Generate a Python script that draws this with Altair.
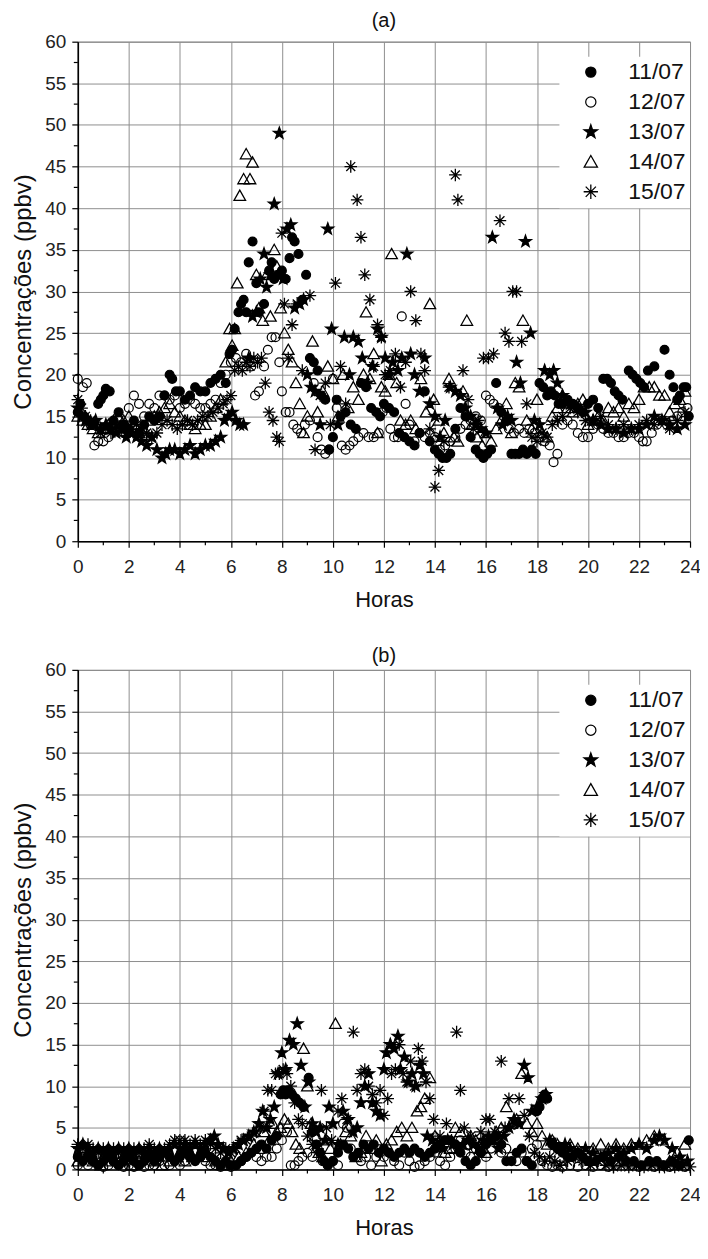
import altair as alt
import pandas as pd

SERIES = ["11/07", "12/07", "13/07", "14/07", "15/07"]

# ---------------- Panel (a): (hour, ppbv) ----------------
A_1107 = [(0.0,15.5),(0.1,16.5),(0.25,15.0),(0.4,14.5),(0.6,14.0),(0.8,16.5),(0.9,17.0),(1.0,17.5),(1.1,18.3),(1.25,18.0),(1.4,14.5),(1.6,15.5),(1.8,14.0),
          (2.0,13.5),(2.2,14.5),(2.4,13.0),(2.6,14.0),(2.8,15.0),(3.0,14.5),(3.2,15.0),(3.4,17.5),(3.6,20.0),(3.7,19.5),(3.85,18.0),(4.0,18.0),(4.2,17.0),(4.4,17.5),(4.6,18.5),(4.8,18.0),
          (5.0,18.0),(5.2,19.0),(5.4,19.5),(5.6,20.0),(5.8,19.0),(5.95,22.5),(6.05,23.0),(6.15,25.5),(6.3,27.5),(6.4,28.5),(6.5,29.0),(6.6,27.5),(6.7,33.5),(6.85,36.0),(7.0,31.0),(7.1,27.5),
          (7.3,28.5),(7.5,32.5),(7.6,33.5),(7.7,31.5),(7.85,32.0),(8.0,32.5),(8.15,31.5),(8.3,34.0),(8.4,36.5),(8.5,36.0),(8.65,34.5),(8.8,29.0),(8.95,32.0),(9.1,22.0),(9.25,21.5),(9.4,20.5),
          (9.55,17.5),(9.7,17.0),(9.85,11.0),(10.0,12.5),(10.15,17.0),(10.3,15.0),(10.5,15.5),(10.7,14.0),(10.9,13.5),(11.1,19.0),(11.3,18.5),(11.5,16.0),(11.7,15.5),(11.85,15.0),(12.0,16.5),
          (12.2,16.0),(12.4,15.5),(12.6,13.0),(12.8,12.5),(13.0,12.0),(13.2,11.5),(13.4,13.0),(13.6,18.0),(13.8,12.0),(14.0,11.0),(14.15,10.5),(14.3,10.0),(14.45,10.0),(14.6,10.5),(14.8,13.5),
          (15.0,16.0),(15.2,15.0),(15.4,12.5),(15.6,11.0),(15.75,10.5),(15.9,10.0),(16.05,10.5),(16.2,11.0),(16.4,19.0),(16.6,15.5),(16.8,14.5),(17.0,10.5),(17.15,10.5),(17.3,10.5),(17.45,11.0),
          (17.6,10.5),(17.8,11.0),(17.95,10.5),(18.1,19.0),(18.25,18.5),(18.4,17.5),(18.55,18.0),(18.7,17.5),(18.85,16.5),(19.0,16.5),(19.2,17.0),(19.4,16.5),(19.6,16.0),(19.8,15.5),(20.0,16.5),
          (20.2,17.0),(20.4,16.0),(20.6,19.5),(20.75,19.5),(20.9,19.0),(21.05,18.0),(21.2,17.5),(21.35,17.0),(21.6,20.5),(21.75,20.0),(21.9,19.5),(22.05,19.0),(22.2,18.5),(22.35,20.5),(22.6,21.0),
          (23.0,23.0),(23.2,20.0),(23.35,18.5),(23.5,17.0),(23.6,17.5),(23.75,18.5),(23.85,18.5),(23.95,15.0)]

A_1207 = [(0.0,19.5),(0.2,18.5),(0.35,19.0),(0.5,14.0),(0.65,11.5),(0.8,12.0),(1.0,12.0),(1.2,12.5),(1.4,13.5),(1.6,14.5),(1.8,13.0),(2.0,16.0),(2.2,17.5),(2.4,16.5),(2.6,15.0),(2.8,16.5),
          (3.0,16.0),(3.2,17.5),(3.4,17.5),(3.6,17.0),(3.8,17.5),(4.0,16.0),(4.2,16.5),(4.4,17.0),(4.6,16.5),(4.8,16.0),(5.0,16.0),(5.2,16.5),(5.4,17.0),(5.6,19.0),(5.8,20.0),(6.0,21.5),
          (6.2,22.0),(6.4,21.5),(6.6,22.5),(6.8,21.0),(6.95,17.5),(7.1,18.0),(7.3,21.0),(7.45,23.0),(7.6,24.5),(7.75,24.5),(7.9,21.5),(8.0,18.0),(8.15,15.5),(8.3,15.5),(8.45,14.0),(8.6,13.5),
          (8.75,13.0),(8.9,14.0),(9.1,14.5),(9.25,19.0),(9.4,12.5),(9.55,11.0),(9.7,10.5),(9.85,11.0),(10.0,19.5),(10.15,16.0),(10.35,11.5),(10.5,11.0),(10.65,11.5),(10.8,12.0),(11.0,12.5),
          (11.2,13.0),(11.4,12.5),(11.6,12.5),(11.8,13.0),(11.95,15.5),(12.1,16.0),(12.25,13.5),(12.4,12.5),(12.55,12.5),(12.7,27.0),(12.85,16.5),(13.0,14.0),(13.2,12.0),(13.4,13.0),(13.6,12.5),
          (13.8,13.0),(14.0,12.5),(14.2,11.0),(14.4,11.5),(14.6,12.0),(14.8,12.5),(15.0,13.5),(15.2,14.0),(15.4,14.5),(15.6,15.0),(15.8,14.5),(16.0,17.5),(16.15,17.0),(16.3,16.5),(16.5,16.0),
          (16.7,15.0),(16.9,13.5),(17.1,13.0),(17.3,13.5),(17.5,13.0),(17.7,13.5),(17.9,13.0),(18.1,12.5),(18.3,12.0),(18.5,11.5),(18.65,9.5),(18.8,10.5),(19.0,14.0),(19.2,14.5),(19.4,14.0),
          (19.6,13.0),(19.8,12.5),(20.0,12.5),(20.2,13.5),(20.4,14.0),(20.6,13.5),(20.8,13.0),(21.0,13.0),(21.2,12.5),(21.4,12.5),(21.6,13.0),(21.8,13.0),(22.0,12.5),(22.15,12.0),(22.3,12.0),
          (22.5,13.0),(22.7,14.0),(22.9,14.5),(23.1,14.0),(23.3,14.5),(23.5,15.0),(23.7,15.5),(23.9,16.0)]

A_1307 = [(0.0,16.0),(0.15,15.0),(0.3,14.5),(0.5,14.0),(0.7,14.5),(0.9,13.5),(1.1,14.0),(1.3,13.5),(1.5,13.0),(1.7,13.5),(1.9,12.5),(2.1,13.0),(2.3,12.5),(2.5,12.0),(2.7,11.5),(2.9,12.5),
          (3.1,11.0),(3.3,10.0),(3.45,10.5),(3.6,11.0),(3.8,11.0),(4.0,10.5),(4.2,11.0),(4.4,11.5),(4.6,10.5),(4.8,11.0),(5.0,11.5),(5.2,11.5),(5.4,12.0),(5.6,12.5),(5.75,14.5),(5.9,15.0),
          (6.05,15.5),(6.2,14.5),(6.35,14.0),(6.5,14.0),(6.7,22.0),(6.85,27.0),(7.0,27.5),(7.15,31.5),(7.3,34.5),(7.4,30.5),(7.55,32.0),(7.7,40.5),(7.9,49.0),(8.05,31.5),(8.2,37.5),(8.35,38.0),
          (8.5,28.0),(8.7,28.5),(8.85,29.0),(9.0,20.0),(9.15,18.5),(9.3,18.0),(9.5,14.0),(9.8,37.5),(9.95,25.5),(10.2,14.0),(10.45,24.5),(10.65,20.0),(10.8,24.5),(11.0,24.0),(11.15,22.0),
          (11.35,19.0),(11.55,21.0),(11.75,25.5),(11.9,24.5),(12.05,22.0),(12.2,20.0),(12.35,21.5),(12.55,20.5),(12.7,22.0),(12.9,34.5),(13.05,22.5),(13.2,20.0),(13.4,18.0),(13.6,22.0),(13.8,16.5),
          (14.0,15.0),(14.2,12.5),(14.4,14.5),(14.6,18.5),(14.8,18.0),(15.0,17.5),(15.2,16.0),(15.4,15.0),(15.6,14.0),(15.8,13.5),(16.0,13.0),(16.25,36.5),(16.45,16.0),(16.65,14.0),(16.85,15.0),
          (17.0,14.5),(17.2,21.5),(17.35,19.0),(17.55,36.0),(17.75,25.0),(17.9,14.5),(18.1,14.0),(18.3,20.5),(18.5,20.0),(18.65,20.5),(18.8,19.0),(19.0,17.5),(19.3,16.5),(19.6,16.0),(19.9,15.5),
          (20.2,14.5),(20.5,14.0),(20.8,13.5),(21.1,13.5),(21.4,13.0),(21.7,13.5),(22.0,13.5),(22.3,14.0),(22.6,15.0),(22.9,14.5),(23.2,14.0),(23.5,13.5),(23.8,14.0)]

A_1407 = [(0.0,15.0),(0.2,14.5),(0.4,14.0),(0.6,13.5),(0.8,13.0),(1.0,13.5),(1.2,14.0),(1.4,14.5),(1.6,15.0),(1.8,14.5),(2.0,15.0),(2.2,14.0),(2.4,13.0),(2.6,13.5),(2.8,14.5),(3.0,15.0),
          (3.2,15.5),(3.4,16.0),(3.6,16.5),(3.8,15.5),(4.0,15.0),(4.2,14.5),(4.4,14.0),(4.6,13.5),(4.8,14.0),(5.0,14.0),(5.2,15.0),(5.4,16.0),(5.6,17.0),(5.8,21.5),(5.95,25.5),(6.05,23.5),
          (6.15,25.5),(6.25,31.0),(6.35,41.5),(6.5,43.5),(6.6,46.5),(6.75,43.5),(6.85,45.5),(7.0,32.0),(7.1,28.0),(7.25,26.5),(7.4,32.0),(7.55,27.0),(7.7,35.0),(7.8,33.0),(7.95,28.0),(8.1,25.0),
          (8.25,23.0),(8.4,21.5),(8.55,19.0),(8.7,16.5),(8.85,13.0),(9.0,15.0),(9.2,24.0),(9.4,15.5),(9.6,18.0),(9.8,21.0),(10.0,19.5),(10.2,15.0),(10.4,20.0),(10.6,16.0),(10.8,18.5),(11.0,17.0),
          (11.2,20.0),(11.3,27.5),(11.45,19.5),(11.6,22.5),(11.75,13.0),(11.9,18.5),(12.05,18.0),(12.2,20.0),(12.3,34.5),(12.5,19.0),(12.65,14.5),(12.85,14.0),(13.05,14.5),(13.25,13.5),
          (13.45,19.5),(13.65,15.5),(13.8,28.5),(13.95,17.0),(14.15,14.5),(14.35,13.0),(14.55,19.5),(14.75,12.5),(14.9,12.0),(15.1,18.0),(15.25,26.5),(15.45,14.0),(15.65,12.5),(15.85,11.5),
          (16.0,13.0),(16.2,12.0),(16.4,13.5),(16.6,14.5),(16.8,16.5),(17.0,13.0),(17.15,19.0),(17.3,18.5),(17.45,26.5),(17.6,14.5),(17.8,13.5),(18.0,17.0),(18.2,13.0),(18.4,12.5),(18.6,15.0),
          (18.8,16.0),(19.0,17.5),(19.2,16.0),(19.4,15.5),(19.6,16.5),(19.8,17.0),(20.0,14.0),(20.2,14.5),(20.4,15.0),(20.6,14.5),(20.8,16.0),(21.0,15.5),(21.2,16.0),(21.4,15.0),(21.6,16.5),
          (21.8,16.0),(22.0,17.0),(22.2,18.5),(22.4,18.5),(22.6,18.5),(22.8,17.5),(23.0,17.5),(23.2,15.5),(23.4,16.5),(23.6,17.0),(23.8,18.0)]

A_1507 = [(0.0,17.0),(0.15,16.0),(0.3,15.0),(0.5,14.5),(0.7,14.0),(0.9,13.0),(1.1,13.5),(1.3,13.0),(1.5,14.0),(1.7,13.5),(1.9,13.0),(2.1,13.5),(2.3,14.0),(2.5,13.5),(2.7,13.0),(2.9,12.5),
          (3.1,13.0),(3.3,14.0),(3.5,14.5),(3.7,14.0),(3.9,13.5),(4.1,14.0),(4.3,14.5),(4.5,14.0),(4.7,14.5),(4.9,15.0),(5.1,15.0),(5.3,15.5),(5.5,16.0),(5.7,16.5),(5.85,17.0),(6.0,17.5),
          (6.15,20.5),(6.3,21.0),(6.45,20.5),(6.6,21.5),(6.75,21.0),(6.9,22.0),(7.05,21.5),(7.2,22.0),(7.35,19.0),(7.5,15.5),(7.65,14.5),(7.8,12.5),(7.9,12.0),(8.0,37.0),(8.1,28.5),(8.25,22.0),
          (8.4,26.0),(8.6,28.5),(8.8,20.5),(9.1,29.5),(9.3,11.0),(9.5,17.5),(9.7,19.0),(9.9,14.0),(10.1,31.0),(10.3,21.0),(10.5,16.5),(10.7,45.0),(10.95,41.0),(11.1,36.5),(11.25,32.0),(11.45,29.0),
          (11.6,21.0),(11.75,26.0),(11.9,24.5),(12.05,20.0),(12.25,20.5),(12.45,22.5),(12.65,18.5),(12.85,21.5),(13.05,30.0),(13.25,26.5),(13.45,22.5),(13.6,20.5),(13.8,13.5),(14.0,6.5),(14.15,8.5),
          (14.35,12.0),(14.55,18.5),(14.8,44.0),(14.9,41.0),(15.1,20.5),(15.3,17.0),(15.5,13.5),(15.7,14.5),(15.9,22.0),(16.1,22.0),(16.3,22.5),(16.55,38.5),(16.75,25.0),(16.9,24.0),(17.05,30.0),
          (17.2,30.0),(17.4,24.0),(17.6,16.5),(17.8,12.5),(18.0,12.0),(18.2,13.0),(18.4,12.5),(18.6,14.0),(18.8,14.5),(19.0,15.0),(19.3,16.0),(19.6,15.5),(19.9,14.5),(20.2,14.5),(20.5,15.0),
          (20.8,14.0),(21.1,13.5),(21.4,14.0),(21.7,13.5),(22.0,14.0),(22.3,14.5),(22.6,14.0),(22.9,14.5),(23.2,13.5),(23.5,14.5),(23.8,15.5)]

# ---------------- Panel (b): (hour, ppbv) ----------------
B_1107 = [(0.0,1.5),(0.2,1.0),(0.4,1.5),(0.6,1.0),(0.8,0.5),(1.0,1.0),(1.2,1.5),(1.4,1.0),(1.6,0.5),(1.8,1.0),(2.0,1.5),(2.2,1.0),(2.4,0.5),(2.6,1.0),(2.8,1.5),(3.0,1.0),(3.2,1.5),
          (3.4,2.0),(3.6,1.5),(3.8,1.0),(4.0,1.5),(4.2,2.0),(4.4,1.5),(4.6,1.0),(4.8,1.5),(5.0,2.0),(5.2,1.5),(5.4,1.0),(5.6,0.5),(5.8,1.0),(6.0,0.5),(6.2,0.5),(6.4,1.0),(6.6,1.5),(6.8,2.0),
          (7.0,2.5),(7.2,3.0),(7.4,2.5),(7.6,3.5),(7.8,4.0),(7.95,9.0),(8.05,9.5),(8.15,9.0),(8.25,9.5),(8.4,9.0),(8.55,8.5),(8.7,8.0),(8.85,7.5),(9.05,11.0),(9.2,4.5),(9.35,3.0),(9.5,2.0),
          (9.65,1.0),(9.8,0.5),(10.0,1.0),(10.2,2.0),(10.4,3.0),(10.6,2.5),(10.8,1.5),(11.0,2.0),(11.2,3.0),(11.4,2.5),(11.6,3.0),(11.8,2.0),(12.0,2.5),(12.2,2.0),(12.4,1.5),(12.6,2.0),
          (12.8,2.5),(13.0,2.0),(13.2,2.5),(13.4,2.0),(13.6,1.5),(13.8,2.0),(14.0,2.5),(14.2,3.0),(14.4,3.5),(14.6,3.5),(14.8,3.0),(15.0,2.0),(15.2,1.0),(15.4,0.5),(15.6,1.0),(15.8,2.0),
          (16.0,3.0),(16.2,3.5),(16.4,4.0),(16.6,3.0),(16.8,1.0),(17.0,1.0),(17.2,2.0),(17.4,2.5),(17.6,1.0),(17.8,0.5),(18.0,7.0),(18.1,7.5),(18.2,8.5),(18.3,9.0),(18.4,8.5),(18.6,3.0),
          (18.8,2.5),(19.0,2.0),(19.2,1.5),(19.4,1.5),(19.6,2.0),(19.8,1.5),(20.0,1.0),(20.3,1.0),(20.6,1.5),(20.9,1.0),(21.2,1.5),(21.5,1.0),(21.8,1.0),(22.1,0.5),(22.4,1.0),(22.7,1.0),
          (23.0,0.5),(23.3,1.0),(23.6,0.5),(23.95,3.5)]

B_1207 = [(0.0,0.5),(0.2,1.5),(0.4,0.5),(0.6,1.0),(0.8,0.5),(1.0,0.3),(1.2,0.5),(1.4,1.0),(1.6,0.5),(1.8,0.3),(2.0,0.5),(2.2,0.3),(2.4,0.5),(2.6,0.3),(2.8,0.5),(3.0,0.5),(3.2,1.0),
          (3.4,0.5),(3.6,0.5),(3.8,1.0),(4.0,0.5),(4.2,1.0),(4.4,1.5),(4.6,2.0),(4.8,1.5),(5.0,1.0),(5.2,0.5),(5.4,0.5),(5.6,0.3),(5.8,0.5),(6.0,0.3),(6.2,0.5),(6.4,1.0),(6.6,1.5),(6.8,2.0),
          (7.0,1.5),(7.2,1.0),(7.4,1.5),(7.6,1.5),(7.8,2.5),(8.0,3.5),(8.2,4.5),(8.35,0.5),(8.5,0.5),(8.65,1.0),(8.8,1.5),(9.0,2.0),(9.2,1.5),(9.4,2.5),(9.6,1.0),(9.8,0.5),(10.0,1.0),
          (10.2,0.5),(10.4,5.5),(10.55,5.0),(10.7,2.5),(10.9,1.5),(11.1,1.0),(11.3,1.5),(11.5,0.5),(11.7,1.5),(11.85,2.0),(12.0,1.5),(12.2,2.0),(12.4,1.0),(12.6,0.5),(12.8,2.0),(13.0,1.0),
          (13.2,0.3),(13.4,0.5),(13.6,1.0),(13.8,1.5),(14.0,2.0),(14.2,1.0),(14.4,0.5),(14.6,1.5),(14.8,2.5),(15.0,3.5),(15.2,2.0),(15.4,1.5),(15.6,2.5),(15.8,2.0),(16.0,1.5),(16.2,2.5),
          (16.4,3.5),(16.6,2.0),(16.8,2.5),(17.0,1.5),(17.2,1.0),(17.4,2.0),(17.6,1.0),(17.8,2.5),(18.0,3.0),(18.2,1.0),(18.4,0.5),(18.6,0.3),(18.8,0.5),(19.0,0.3),(19.3,0.5),(19.6,0.3),
          (19.9,0.5),(20.2,0.3),(20.5,0.5),(20.8,0.3),(21.1,0.5),(21.4,1.0),(21.7,0.5),(22.0,0.3),(22.3,0.5),(22.6,0.3),(22.9,0.5),(23.2,0.3),(23.5,0.5),(23.8,0.3)]

B_1307 = [(0.0,2.5),(0.2,3.0),(0.4,2.5),(0.6,2.0),(0.8,2.5),(1.0,2.0),(1.2,2.5),(1.4,2.0),(1.6,2.5),(1.8,2.0),(2.0,2.5),(2.2,2.0),(2.4,2.5),(2.6,2.0),(2.8,2.5),(3.0,2.0),(3.2,2.5),
          (3.4,2.0),(3.6,2.5),(3.8,3.0),(4.0,2.5),(4.2,3.0),(4.4,2.5),(4.6,3.0),(4.8,2.5),(5.0,3.0),(5.2,3.5),(5.35,4.0),(5.5,3.0),(5.7,2.5),(5.9,2.0),(6.1,2.5),(6.3,3.0),(6.5,3.5),(6.7,4.0),
          (6.9,4.5),(7.1,5.5),(7.25,7.0),(7.4,5.0),(7.55,6.0),(7.7,7.5),(7.85,11.5),(8.0,14.0),(8.15,12.0),(8.3,15.5),(8.45,15.0),(8.6,17.5),(8.75,12.5),(8.9,7.5),(9.05,10.5),(9.2,5.5),
          (9.35,4.5),(9.5,5.0),(9.7,3.5),(9.85,7.5),(10.0,5.5),(10.2,3.0),(10.4,7.0),(10.6,6.0),(10.8,4.5),(10.95,5.0),(11.1,8.0),(11.25,10.0),(11.4,11.5),(11.55,8.0),(11.7,7.0),(11.85,6.5),
          (12.0,12.0),(12.1,14.0),(12.25,15.0),(12.4,14.5),(12.55,16.0),(12.65,12.0),(12.8,13.5),(12.95,10.5),(13.1,11.5),(13.25,10.0),(13.4,12.5),(13.55,11.5),(13.7,4.0),(13.9,3.5),
          (14.1,3.0),(14.3,2.5),(14.5,3.5),(14.7,3.0),(14.9,2.5),(15.1,3.0),(15.3,3.5),(15.5,3.0),(15.7,2.5),(15.9,3.5),(16.1,4.0),(16.3,3.5),(16.5,2.5),(16.7,4.0),(16.9,5.0),(17.1,6.0),
          (17.3,5.5),(17.5,12.5),(17.65,11.0),(17.8,7.0),(18.0,7.5),(18.2,8.5),(18.35,9.0),(18.5,3.5),(18.7,3.0),(18.9,2.5),(19.1,3.0),(19.3,2.5),(19.6,2.0),(19.9,2.5),(20.2,2.0),(20.5,1.5),
          (20.8,2.0),(21.1,2.5),(21.4,2.0),(21.7,2.5),(22.0,3.0),(22.3,2.5),(22.6,3.5),(22.8,4.0),(23.0,3.5),(23.3,2.5),(23.6,1.5),(23.9,1.0)]

B_1407 = [(0.0,1.0),(0.3,1.5),(0.6,1.0),(0.9,0.5),(1.2,1.0),(1.5,1.5),(1.8,1.0),(2.1,0.5),(2.4,1.0),(2.7,1.5),(3.0,1.0),(3.3,0.5),(3.6,1.0),(3.9,1.5),(4.2,1.0),(4.5,1.5),(4.8,2.0),
          (5.1,1.5),(5.4,1.0),(5.7,0.5),(6.0,1.0),(6.3,1.5),(6.6,2.0),(6.9,3.0),(7.1,2.5),(7.3,4.5),(7.5,3.5),(7.65,5.5),(7.8,4.5),(7.95,5.0),(8.1,6.0),(8.25,5.5),(8.4,4.5),(8.55,3.0),
          (8.7,2.5),(8.85,14.5),(9.0,10.0),(9.15,5.5),(9.3,4.0),(9.45,2.0),(9.6,1.5),(9.75,3.5),(9.9,2.5),(10.1,17.5),(10.3,3.0),(10.5,4.5),(10.7,4.0),(10.9,1.5),(11.1,2.0),(11.3,4.0),
          (11.5,2.5),(11.7,3.5),(11.9,1.0),(12.1,3.0),(12.3,3.5),(12.5,4.5),(12.7,5.0),(12.9,4.0),(13.1,5.0),(13.3,7.0),(13.45,7.5),(13.6,8.5),(13.8,11.0),(14.0,4.0),(14.2,3.0),(14.4,2.0),
          (14.6,2.5),(14.8,5.0),(15.0,4.5),(15.2,3.0),(15.4,4.0),(15.6,3.5),(15.8,2.5),(16.0,2.0),(16.2,3.5),(16.4,4.5),(16.6,5.0),(16.8,7.5),(17.0,5.5),(17.2,6.0),(17.4,11.5),(17.6,5.5),
          (17.8,4.5),(18.0,5.5),(18.2,4.0),(18.4,3.0),(18.6,3.5),(18.8,3.0),(19.0,2.5),(19.3,3.0),(19.6,2.5),(19.9,2.0),(20.2,2.5),(20.5,3.0),(20.8,2.5),(21.1,3.0),(21.4,2.5),(21.7,3.0),
          (22.0,3.0),(22.3,3.5),(22.6,4.0),(22.9,3.5),(23.2,1.0),(23.5,2.0),(23.8,3.0)]

B_1507 = [(0.0,3.0),(0.2,2.5),(0.4,3.0),(0.6,2.5),(0.8,2.0),(1.0,2.5),(1.2,2.0),(1.4,2.5),(1.6,2.0),(1.8,2.5),(2.0,2.0),(2.2,2.5),(2.4,2.0),(2.6,2.5),(2.8,3.0),(3.0,2.5),(3.2,2.0),
          (3.4,2.5),(3.6,3.0),(3.8,3.5),(4.0,3.5),(4.2,3.5),(4.4,3.0),(4.6,3.5),(4.8,3.0),(5.0,3.5),(5.2,3.0),(5.4,2.5),(5.6,2.0),(5.8,2.5),(6.0,2.0),(6.2,2.5),(6.4,3.5),(6.6,3.5),(6.8,4.0),
          (7.0,4.5),(7.15,5.0),(7.3,7.0),(7.45,9.5),(7.6,9.5),(7.75,11.5),(7.9,11.5),(8.05,12.0),(8.2,11.5),(8.35,10.0),(8.5,8.0),(8.65,6.0),(8.8,5.5),(9.0,4.0),(9.2,3.0),(9.4,2.5),
          (9.55,9.5),(9.75,5.0),(9.95,3.5),(10.2,7.0),(10.35,8.5),(10.55,6.0),(10.8,16.5),(10.95,9.5),(11.1,11.5),(11.25,12.0),(11.4,10.0),(11.55,9.0),(11.7,8.0),(11.85,9.5),(12.0,6.5),
          (12.15,8.5),(12.3,11.5),(12.45,12.0),(12.6,15.0),(12.75,11.5),(12.9,10.5),(13.05,13.0),(13.2,10.0),(13.35,14.5),(13.5,13.0),(13.65,10.5),(13.8,8.5),(13.95,6.0),(14.2,4.0),(14.45,5.5),
          (14.65,3.5),(14.85,16.5),(15.0,9.5),(15.15,5.0),(15.4,4.0),(15.6,3.0),(15.8,4.5),(16.0,6.0),(16.15,6.0),(16.35,4.5),(16.6,13.0),(16.75,5.0),(16.9,8.5),(17.1,5.5),(17.3,8.5),(17.5,6.5),
          (17.7,4.0),(17.9,2.0),(18.1,1.5),(18.3,1.0),(18.5,1.5),(18.7,1.0),(18.9,0.5),(19.2,1.0),(19.5,1.5),(19.8,1.0),(20.1,0.5),(20.4,1.0),(20.7,0.5),(21.0,0.3),(21.3,0.5),(21.6,0.3),
          (21.9,0.5),(22.2,0.3),(22.5,0.5),(22.8,0.3),(23.1,0.5),(23.4,0.3),(23.7,0.5),(24.0,0.3)]

X_MAJOR = [0, 2, 4, 6, 8, 10, 12, 14, 16, 18, 20, 22, 24]
X_MINOR = [1, 3, 5, 7, 9, 11, 13, 15, 17, 19, 21, 23]
Y_MAJOR = [0, 5, 10, 15, 20, 25, 30, 35, 40, 45, 50, 55, 60]
Y_MINOR = [2.5, 7.5, 12.5, 17.5, 22.5, 27.5, 32.5, 37.5, 42.5, 47.5, 52.5, 57.5]

STAR = ("M0,-1.4L0.33,-0.45L1.33,-0.43L0.53,0.17L0.82,1.13L0,0.56L-0.82,1.13"
        "L-0.53,0.17L-1.33,-0.43L-0.33,-0.45Z")
TRI = "M0,-1.25L1.3,1.05L-1.3,1.05Z"
AST = "M-1.4,0L1.4,0M0,-1.4L0,1.4M-1.0,-1.0L1.0,1.0M-1.0,1.0L1.0,-1.0"
SHAPES = ["circle", "circle", STAR, TRI, AST]
FILLS = ["black", "transparent", "black", "transparent", "transparent"]
STROKES = ["black", "black", "black", "black", "black"]
WIDTHS = [1.2, 1.3, 1.0, 1.7, 1.9]

FONT = "Liberation Sans"
W, H = 614, 501


def frame(series_lists):
    rows = []
    for name, pts in zip(SERIES, series_lists):
        for h, v in pts:
            rows.append({"Data": name, "h": h, "v": v})
    return pd.DataFrame(rows)


def panel(df, label, title_offset):
    xs = alt.Scale(domain=[0, 24], nice=False, zero=False)
    ys = alt.Scale(domain=[0, 60], nice=False)
    xaxis = alt.Axis(values=X_MAJOR, title="Horas")
    yaxis = alt.Axis(values=Y_MAJOR, title="Concentrações (ppbv)")
    legend = alt.Legend(
        title=None, orient="none", legendX=483, legendY=15, fillColor="white",
        padding=4, rowPadding=6, symbolOffset=16, labelOffset=26,
        labelFontSize=23, labelFont=FONT, labelColor="#111", symbolSize=105,
    )
    pts = alt.Chart(df).mark_point(opacity=1, size=80).encode(
        x=alt.X("h:Q", scale=xs, axis=xaxis),
        y=alt.Y("v:Q", scale=ys, axis=yaxis),
        shape=alt.Shape("Data:N", scale=alt.Scale(domain=SERIES, range=SHAPES), legend=legend),
        fill=alt.Fill("Data:N", scale=alt.Scale(domain=SERIES, range=FILLS), legend=legend),
        stroke=alt.Stroke("Data:N", scale=alt.Scale(domain=SERIES, range=STROKES), legend=legend),
        strokeWidth=alt.StrokeWidth("Data:N", scale=alt.Scale(domain=SERIES, range=WIDTHS), legend=legend),
    )
    xminor = alt.Chart(pd.DataFrame({"h": X_MINOR})).mark_rule(
        color="black", strokeWidth=1.2
    ).encode(x=alt.X("h:Q", scale=xs, axis=xaxis), y=alt.value(H), y2=alt.value(H + 4))
    yminor = alt.Chart(pd.DataFrame({"v": Y_MINOR})).mark_rule(
        color="black", strokeWidth=1.2
    ).encode(y=alt.Y("v:Q", scale=ys, axis=yaxis), x=alt.value(-4), x2=alt.value(0))
    return alt.layer(pts, xminor, yminor).properties(
        width=W, height=H,
        title=alt.TitleParams(label, fontSize=20, font=FONT, fontWeight="normal",
                              color="#111", offset=title_offset, anchor="middle"),
    )


pa = panel(frame([A_1107, A_1207, A_1307, A_1407, A_1507]), "(a)", 2)
pb = panel(frame([B_1107, B_1207, B_1307, B_1407, B_1507]), "(b)", -5)

chart = alt.vconcat(pa, pb, spacing=34).resolve_scale(
    shape="independent", fill="independent", stroke="independent", strokeWidth="independent"
).resolve_legend(
    shape="independent", fill="independent", stroke="independent", strokeWidth="independent"
).properties(
    padding={"left": 3, "top": 0, "right": -2, "bottom": 0}
).configure_view(
    stroke="#777", strokeWidth=1
).configure_axis(
    grid=True, gridColor="#8f8f8f", gridWidth=1, gridOpacity=1,
    domainColor="black", domainWidth=1.6, tickColor="black", tickWidth=1.2,
    tickSize=6, labelFont=FONT, labelFontSize=19, labelColor="#222",
    labelFlush=False, labelOverlap=False,
    titleFont=FONT, titleFontWeight="normal", titleColor="#111",
).configure_axisX(
    titleFontSize=22, titlePadding=13, labelPadding=10
).configure_axisY(
    titleFontSize=24, titlePadding=9, labelPadding=6
)

chart.save("out.html", embed_options={"renderer": "svg", "actions": False})
